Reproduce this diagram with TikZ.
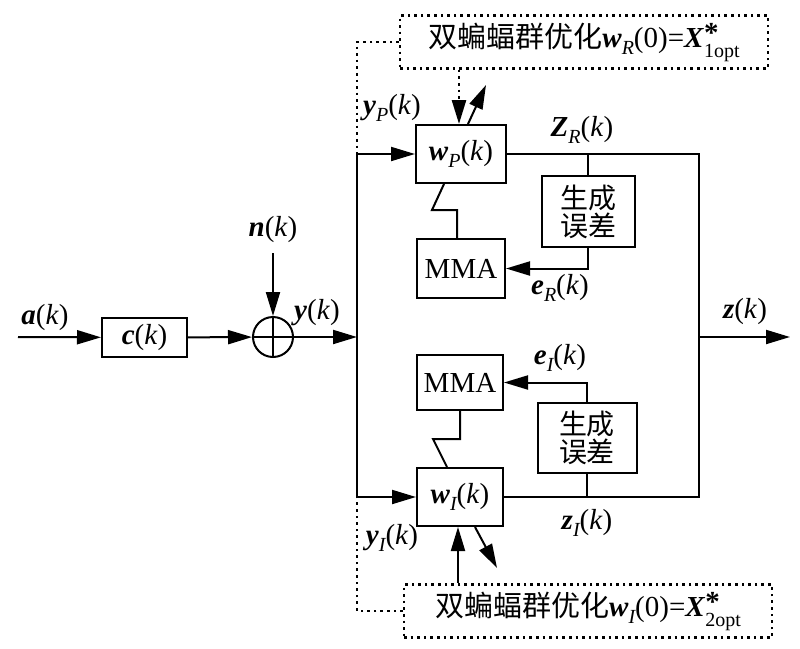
\documentclass[tikz,border=0pt]{standalone}
\usepackage{fontspec}
\setmainfont{Liberation Serif}
\newfontfamily\cjk{Noto Sans CJK SC}
\usetikzlibrary{arrows.meta}
\newcommand\vb[1]{\textbf{\textit{#1}}}
\newcommand\sub[1]{\raisebox{-3.5pt}{\fontsize{10}{10}\selectfont\itshape #1}}
\newcommand\kk{(\textit{k})}
\newcommand\xopt[1]{\vb{X}\rlap{\raisebox{2.5pt}{\textbf{*}}}\raisebox{-5pt}{\fontsize{10}{10}\selectfont #1opt}}
\begin{document}
\begin{tikzpicture}[x=0.5pt,y=-0.5pt,line width=1pt,
	>={Triangle[length=12pt,width=7pt]},
	every node/.style={font=\fontsize{14.5}{17}\selectfont},
	blk/.style={draw,inner sep=0pt},
	errblk/.style={draw,inner sep=0pt,align=center,font=\cjk\fontsize{14}{14}\selectfont},
	optblk/.style={draw,dotted,line width=1.3pt,inner sep=0pt,minimum width=184pt,minimum height=26.5pt},
	fb/.style={dotted,line width=1.3pt}]
	\useasboundingbox (0,0) rectangle (800,649);
	% blocks
	\node[blk,minimum width=42.5pt,minimum height=19.5pt] (cbox) at (144.5,337.5) {\vb{c}\kk};
	\node[draw,circle,inner sep=0pt,minimum size=20pt] (sum) at (273,337) {};
	\draw (sum.north) -- (sum.south) (sum.west) -- (sum.east);
	\node[blk,minimum width=45pt,minimum height=29pt] (wP) at (461,154) {\vb{w}\sub{P}\kk};
	\node[blk,minimum width=44pt,minimum height=29.5pt] (mmaR) at (461,268.5) {MMA};
	\node[errblk,minimum width=46.5pt,minimum height=35.5pt] (errR) at (588,211.5) {生成\\误差};
	\node[blk,minimum width=43pt,minimum height=27.5pt] (mmaI) at (460,382.5) {MMA};
	\node[errblk,minimum width=49.5pt,minimum height=35pt] (errI) at (587,438) {生成\\误差};
	\node[blk,minimum width=43pt,minimum height=29pt] (wI) at (460,497) {\vb{w}\sub{I}\kk};
	\node[optblk] (optR) at (584,42) {{\cjk 双蝙蝠群优化}\vb{w}\sub{R}(0)=\xopt{1}};
	\node[optblk] (optI) at (588,611) {{\cjk 双蝙蝠群优化}\vb{w}\sub{I}(0)=\xopt{2}};
	% points
	\coordinate (ain) at (18,337);
	\coordinate (nin) at (273,253);
	\coordinate (yj) at (357,337);
	\coordinate (tP) at (357,154);
	\coordinate (tI) at (357,497);
	\coordinate (rP) at (699,154);
	\coordinate (rI) at (699,497);
	\coordinate (zj) at (699,337);
	\coordinate (zout) at (790,337);
	\coordinate (upR) at (486,85);
	\coordinate (dnI) at (497,568);
	% connectors
	\draw[->] (ain) -- (cbox);
	\draw[->] (cbox) -- (sum);
	\draw[->] (nin) -- (sum);
	\draw[->] (sum) -- (yj);
	\draw (tP) -- (tI);
	\draw[->] (tP) -- (wP);
	\draw[->] (tI) -- (wI);
	\draw (wP) -- (rP) -- (rI) -- (wI);
	\draw[->] (zj) -- (zout);
	\draw (errR.north |- wP) -- (errR.north);
	\draw[->] (errR.south) -- (errR.south |- mmaR) -- (mmaR.east);
	\draw[->] (errI.north) -- (errI.north |- mmaI) -- (mmaI.east);
	\draw (errI.south) -- (errI.south |- wI);
	\draw ([xshift=-8.5pt]wP.south) -- ++(-12,26) -- ++(25,0) coordinate (zz) -- (zz |- mmaR.north);
	\draw (mmaI.south) -- ++(0,28) -- ++(-27,0) -- ([xshift=-6.5pt]wI.north);
	\draw[fb,->] ([xshift=-1pt]wP.north |- optR.south) -- ([xshift=-1pt]wP.north);
	\draw[->] ([xshift=3.5pt]wP.north) -- (upR);
	\draw[->] ([xshift=-1pt]wI.south |- optI.north) -- ([xshift=-1pt]wI.south);
	\draw[->] ([xshift=7.5pt]wI.south) -- (dnI);
	\draw[fb] (optR.west) -| (tP);
	\draw[fb] (optI.west) -| (tI);
	% labels
	\node (la) at (45,318) {\vb{a}\kk};
	\node (ln) at (273,230) {\vb{n}\kk};
	\node (ly) at (317,313) {\vb{y}\kk};
	\node (lyP) at (392,108) {\vb{y}\sub{P}\kk};
	\node (lZR) at (582,130) {\vb{Z}\sub{R}\kk};
	\node (leR) at (560,288) {\vb{e}\sub{R}\kk};
	\node (lz) at (745,312) {\vb{z}\kk};
	\node (leI) at (560,358) {\vb{e}\sub{I}\kk};
	\node (lzI) at (587,523) {\vb{z}\sub{I}\kk};
	\node (lyI) at (392,538) {\vb{y}\sub{I}\kk};
\end{tikzpicture}
\end{document}
